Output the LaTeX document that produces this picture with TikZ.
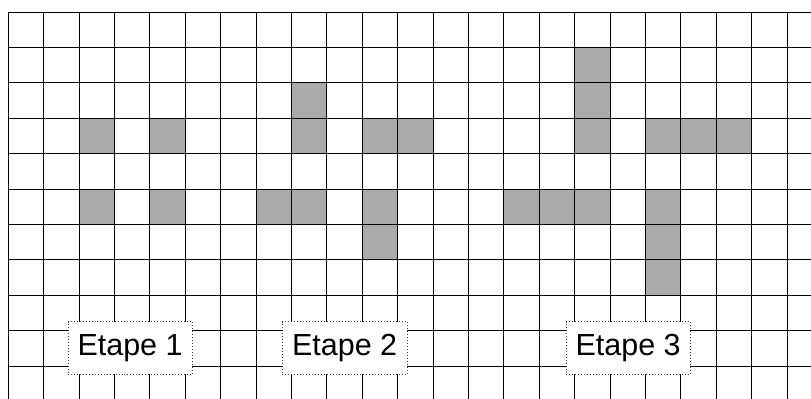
\documentclass[tikz,border=0pt]{standalone}
\usepackage{fontspec}
\setmainfont{Liberation Sans}
\usepackage{xcolor}
\usepackage{tikz}
\definecolor{grisc}{HTML}{AAAAAA}

\begin{document}
\begin{tikzpicture}[
    case/.style={fill=grisc},
    grille/.style={line width=0.8pt, black},
    etiquette/.style={rectangle, draw=black!75, dotted, fill=white, minimum width=3.52cm, minimum height=1.49cm, inner sep=0pt, font=\fontsize{24.5}{29}\selectfont}
]
\useasboundingbox (-0.234,-10.93) rectangle (22.675,0.339);
\clip (-0.234,-10.93) rectangle (22.675,0.339);

% cases grises : colonne/ligne
\foreach \c/\l in {2/3, 4/3, 2/5, 4/5,
                   8/2, 8/3, 10/3, 11/3, 7/5, 8/5, 10/5, 10/6,
                   16/1, 16/2, 16/3, 18/3, 19/3, 20/3, 14/5, 15/5, 16/5, 18/5, 18/6, 18/7}
    \fill [case] (\c,-\l) rectangle ++(1,-1);

\draw [grille] (0,-12) grid (24,0);

\node (etape1) [etiquette] at (3.44,-9.49) {Etape 1};
\node (etape2) [etiquette] at (9.5,-9.49) {Etape 2};
\node (etape3) [etiquette] at (17.51,-9.49) {Etape 3};

\end{tikzpicture}
\end{document}
